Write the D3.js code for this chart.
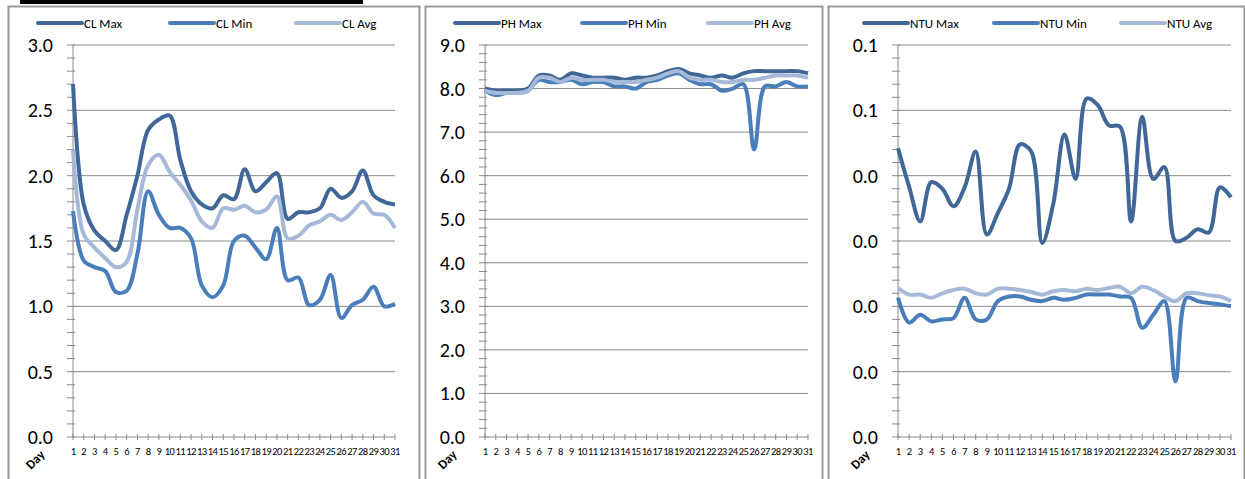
<!DOCTYPE html>
<html><head><meta charset="utf-8">
<script src="https://cdn.jsdelivr.net/npm/d3@7"></script>
<style>
body{margin:0;background:#fff;font-family:Calibri,"Liberation Sans",Carlito,sans-serif;}
</style></head><body>
<svg id="c" width="1245" height="479"></svg>
<script>
var days = d3.range(1, 32);

var clMax = [2.7,1.78,1.58,1.5,1.43,1.7,2.0,2.35,2.43,2.46,2.12,1.88,1.78,1.75,1.85,1.82,2.05,1.88,1.95,2.02,1.67,1.72,1.72,1.75,1.9,1.83,1.88,2.04,1.85,1.8,1.78];
var clMin = [1.73,1.35,1.3,1.27,1.11,1.12,1.4,1.88,1.7,1.6,1.6,1.52,1.16,1.07,1.16,1.5,1.54,1.45,1.36,1.6,1.2,1.22,1.01,1.05,1.24,0.91,1.01,1.05,1.15,1.0,1.02];
var clAvg = [2.2,1.55,1.45,1.37,1.3,1.34,1.74,2.08,2.16,2.03,1.93,1.81,1.65,1.6,1.75,1.74,1.77,1.72,1.74,1.84,1.52,1.54,1.62,1.65,1.7,1.66,1.72,1.8,1.71,1.7,1.6];

var phMax = [8.0,7.95,7.95,7.95,8.0,8.3,8.3,8.2,8.35,8.3,8.25,8.25,8.25,8.2,8.25,8.25,8.3,8.4,8.45,8.35,8.3,8.25,8.3,8.25,8.35,8.4,8.4,8.4,8.4,8.4,8.35];
var phMin = [7.95,7.85,7.9,7.9,7.95,8.2,8.15,8.15,8.2,8.1,8.15,8.15,8.05,8.05,8.0,8.15,8.2,8.3,8.35,8.2,8.1,8.1,7.95,8.0,8.1,6.6,8.05,8.05,8.15,8.05,8.05];
var phAvg = [7.95,7.9,7.9,7.9,7.95,8.25,8.25,8.15,8.25,8.2,8.2,8.2,8.15,8.15,8.15,8.2,8.25,8.35,8.4,8.25,8.2,8.2,8.15,8.15,8.2,8.2,8.25,8.3,8.3,8.3,8.25];

var ntuMax = [0.0442,0.0383,0.033,0.039,0.038,0.0353,0.0382,0.0437,0.031,0.0343,0.038,0.0448,0.0437,0.0297,0.0358,0.0463,0.0395,0.0518,0.0508,0.0477,0.0475,0.033,0.049,0.0395,0.0413,0.03,0.0305,0.0318,0.0313,0.0382,0.0367];
var ntuMin = [0.0213,0.0175,0.0187,0.0177,0.018,0.0182,0.0213,0.018,0.018,0.0208,0.0215,0.0215,0.021,0.0208,0.0213,0.021,0.0213,0.0218,0.0218,0.0218,0.0215,0.0213,0.0167,0.0187,0.0208,0.0085,0.0213,0.0208,0.0205,0.0203,0.02];
var ntuAvg = [0.0228,0.0218,0.0218,0.0213,0.022,0.0225,0.0227,0.022,0.0218,0.0227,0.0227,0.0225,0.0222,0.0218,0.0223,0.0225,0.0223,0.0227,0.0225,0.0228,0.023,0.022,0.023,0.0225,0.0215,0.0208,0.022,0.022,0.0217,0.0215,0.0208];

var colors = ["#3F6797", "#4A7EBB", "#A7B9D9"];

var charts = [
  {frame:[8,420], x:[73,395], names:["CL Max","CL Min","CL Avg"], data:[clMax,clMin,clAvg], max:3, step:0.5, leg:[38,170,296]},
  {frame:[425,823], x:[485,808], names:["PH Max","PH Min","PH Avg"], data:[phMax,phMin,phAvg], max:9, step:1, leg:[455,582,708]},
  {frame:[828,1245], x:[898,1231], names:["NTU Max","NTU Min","NTU Avg"], data:[ntuMax,ntuMin,ntuAvg], max:0.06, step:0.01, leg:[864,994,1121]}
];

var svg = d3.select("#c");
svg.append("rect").attr("x",20).attr("y",0).attr("width",343).attr("height",4).attr("fill","#000");

charts.forEach(function(c){
  var top = 45, bot = 437;
  svg.append("rect").attr("x",c.frame[0]+0.5).attr("y",6.5).attr("width",c.frame[1]-c.frame[0]-1).attr("height",480)
    .attr("fill","none").attr("stroke","#999").attr("stroke-width",2);

  var x = d3.scalePoint().domain(days).range(c.x);
  var y = d3.scaleLinear().domain([0,c.max]).range([bot,top]);
  var g = svg.append("g");
  var major = d3.range(0, c.max + c.step/2, c.step);
  var minor = d3.range(0, c.max + 1e-9, c.step/5);

  g.selectAll(".grid").data(major.slice(1)).enter().append("line")
    .attr("x1",c.x[0]).attr("x2",c.x[1]).attr("y1",d=>y(d)).attr("y2",d=>y(d))
    .attr("stroke","#8a8a8a").attr("stroke-width",1);
  g.selectAll(".mt").data(minor).enter().append("line")
    .attr("x1",c.x[0]-6).attr("x2",c.x[0]+2).attr("y1",d=>y(d)).attr("y2",d=>y(d))
    .attr("stroke","#8a8a8a");
  g.append("line").attr("x1",c.x[0]).attr("x2",c.x[0]).attr("y1",top).attr("y2",bot).attr("stroke","#8a8a8a");
  g.append("line").attr("x1",c.x[0]).attr("x2",c.x[1]).attr("y1",bot).attr("y2",bot).attr("stroke","#8a8a8a");
  g.selectAll(".xt").data(days).enter().append("line")
    .attr("x1",d=>x(d)).attr("x2",d=>x(d)).attr("y1",bot-3).attr("y2",bot+3).attr("stroke","#8a8a8a");
  g.selectAll(".yl").data(major).enter().append("text")
    .attr("x",c.x[0]-20).attr("y",d=>y(d)+7).attr("text-anchor","end")
    .attr("font-size",20).attr("fill","#000").text(d=>d3.format(".1f")(Math.round(d*10+1e-9)/10));
  g.selectAll(".xl").data(days).enter().append("text")
    .attr("x",d=>x(d)).attr("y",bot+18).attr("text-anchor","middle")
    .attr("font-size",10.5).attr("letter-spacing",-0.6).attr("fill","#000").text(d=>d);
  g.append("text").attr("transform","translate("+(c.x[0]-42)+","+(bot+33)+") rotate(-45)")
    .attr("font-size",13).attr("font-weight","bold").attr("fill","#000").text("Day");

  var line = d3.line().x((d,i)=>x(days[i])).y(d=>y(d)).curve(d3.curveCatmullRom.alpha(0.5));
  c.data.forEach(function(s,k){
    g.append("path").datum(s).attr("d",line).attr("fill","none")
      .attr("stroke",colors[k]).attr("stroke-width",4).attr("stroke-linejoin","round");
    var lx = c.leg[k];
    g.append("line").attr("x1",lx).attr("x2",lx+44).attr("y1",23).attr("y2",23)
      .attr("stroke",colors[k]).attr("stroke-width",4).attr("stroke-linecap","round");
    g.append("text").attr("x",lx+46).attr("y",28).attr("font-size",13).attr("fill","#000").text(c.names[k]);
  });
});
</script></body></html>
